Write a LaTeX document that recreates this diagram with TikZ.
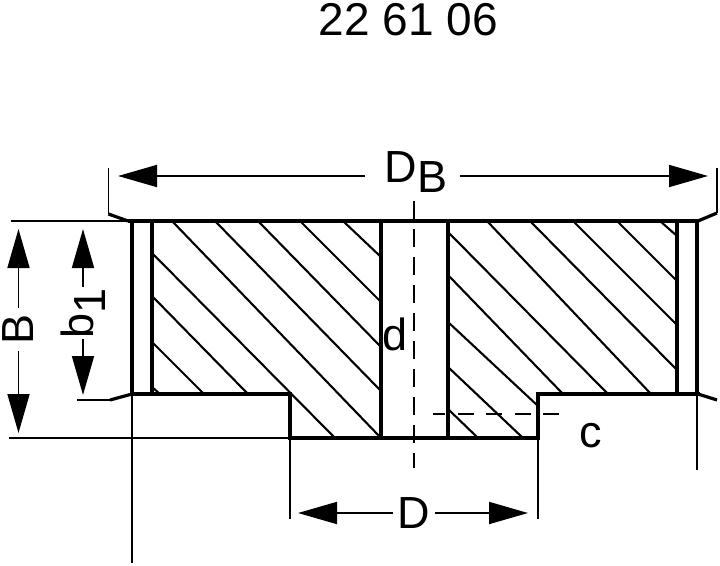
\documentclass[tikz,border=0pt]{standalone}
\usepackage{fontspec}
\setmainfont{Liberation Sans}
\usetikzlibrary{arrows.meta}
\tikzset{
outline/.style={line width=4.6pt, line cap=butt},
chamfer/.style={line width=3.2pt},
hatchline/.style={line width=2.1pt},
thinline/.style={line width=1.8pt},
centerline/.style={line width=2pt, dash pattern=on 18pt off 10pt},
dimarrow/.style={line width=1.8pt, -{Triangle[length=39pt,width=22pt]}},
dimlabel/.style={font=\fontsize{45}{50}\selectfont, inner sep=0pt}}

\begin{document}
\begin{tikzpicture}[x=1pt,y=-1pt]
                \useasboundingbox (0,0) rectangle (720,565);

                \coordinate (TL) at (128,221);
                \coordinate (TR) at (698,221);
                \coordinate (WL) at (132,221);
                \coordinate (WLi) at (152,221);
                \coordinate (WR) at (697,221);
                \coordinate (WRi) at (677,221);
                \coordinate (BoreL) at (381,221);
                \coordinate (BoreR) at (448,221);
                \coordinate (SL) at (132,394);
                \coordinate (SLi) at (290,394);
                \coordinate (HL) at (290,438);
                \coordinate (HR) at (538,438);
                \coordinate (SRi) at (538,394);
                \coordinate (SR) at (698,394);

                \node[dimlabel, font=\fontsize{46}{50}\selectfont, anchor=base] (title) at (408.5,35) {22 61 06};
                \node[dimlabel, anchor=base] (DB) at (416,182) {D\raisebox{-10pt}{B}};
                \node[dimlabel, rotate=90, inner sep=6.5pt] (B) at (18.5,329.5) {B};
                \node[dimlabel, rotate=90, inner sep=1pt] (b1) at (83,313) {b\raisebox{-12pt}{1}};
                \node[dimlabel, inner sep=5pt] (D) at (414,513) {D};
                \node[dimlabel, anchor=base] (d) at (395,350) {d};
                \node[dimlabel, anchor=base] (c) at (590.5,447) {c};

                \foreach \xa/\ya/\xb/\yb in {152/387/160/394, 152/342/204/394, 152/296/248/394,
                    152/253/335/438, 172/221/381/438, 215/221/381/391, 258/221/381/347,
                    300/221/381/302, 343/221/381/257, 660/221/677/236, 617/221/677/281,
                    573/221/677/325, 530/221/677/370, 487/221/651/394, 448/232/608/394,
                    448/275/563/394, 448/322/538/406, 448/367/523/438, 448/409/478/438}
                    \draw[hatchline] (\xa,\ya) -- (\xb,\yb);

                \draw[outline] (TL) -- (TR);
                \draw[outline, line cap=rect] (WL) -- (SL) -- (SLi) -- (HL) -- (HR) -- (SRi) -- (SR);
                \draw[outline] (WLi) -- (WLi |- SL);
                \draw[outline] (WRi) -- (WRi |- SR);
                \draw[outline] (WR) -- (WR |- SR);
                \draw[outline] (BoreL) -- (BoreL |- HL);
                \draw[outline] (BoreR) -- (BoreR |- HL);

                \coordinate (extDBl) at (108.5,168);
                \coordinate (chamTL) at (108.5,214);
                \coordinate (extDBr) at (717,168);
                \coordinate (chamTR) at (717,213);
                \coordinate (chamBL) at (110,400);
                \coordinate (chamBR) at (717,400);
                \draw[thinline] (extDBl) -- (chamTL);
                \draw[thinline] (extDBr) -- (chamTR);
                \draw[chamfer] (chamTL) -- (TL);
                \draw[chamfer] (chamTR) -- (TR);
                \draw[chamfer] (chamBL) -- (SL);
                \draw[chamfer] (chamBR) -- (SR);

                \coordinate (extBt) at (11,221);
                \coordinate (extBb) at (9,438);
                \coordinate (extb1) at (77,400);
                \coordinate (extLow) at (132,563);
                \coordinate (extDl) at (290,519);
                \coordinate (extDr) at (538,519);
                \coordinate (extR) at (697,470);
                \draw[thinline] (extBt) -- (TL);
                \draw[thinline] (extBb) -- (HL);
                \draw[thinline] (extb1) -- (chamBL);
                \draw[thinline] (SL) -- (extLow);
                \draw[thinline] (HL) -- (extDl);
                \draw[thinline] (HR) -- (extDr);
                \draw[thinline] (SR -| WR) -- (extR);

                \coordinate (axisT) at (414,201);
                \coordinate (axisB) at (414,468);
                \coordinate (pitchL) at (433,414);
                \coordinate (pitchR) at (564,414);
                \draw[centerline] (axisT) -- (axisB);
                \draw[centerline, dash pattern=on 16pt off 12.5pt, dash phase=4pt] (pitchL) -- (pitchR);

                \coordinate (DBl) at (118,176);
                \coordinate (DBli) at (365,176);
                \coordinate (DBr) at (708,176);
                \coordinate (DBri) at (460,176);
                \coordinate (Bt) at (18.5,229);
                \coordinate (Bb) at (18.5,433);
                \coordinate (b1t) at (83,229);
                \coordinate (b1b) at (83,395);
                \coordinate (Dl) at (298,513);
                \coordinate (Dr) at (528,513);
                \draw[dimarrow] (DBli) -- (DBl);
                \draw[dimarrow] (DBri) -- (DBr);
                \draw[dimarrow] (B) -- (Bt);
                \draw[dimarrow] (B) -- (Bb);
                \draw[dimarrow] (b1) -- (b1t);
                \draw[dimarrow] (b1) -- (b1b);
                \draw[dimarrow] (D) -- (Dl);
                \draw[dimarrow] (D) -- (Dr);

\end{tikzpicture}
\end{document}
